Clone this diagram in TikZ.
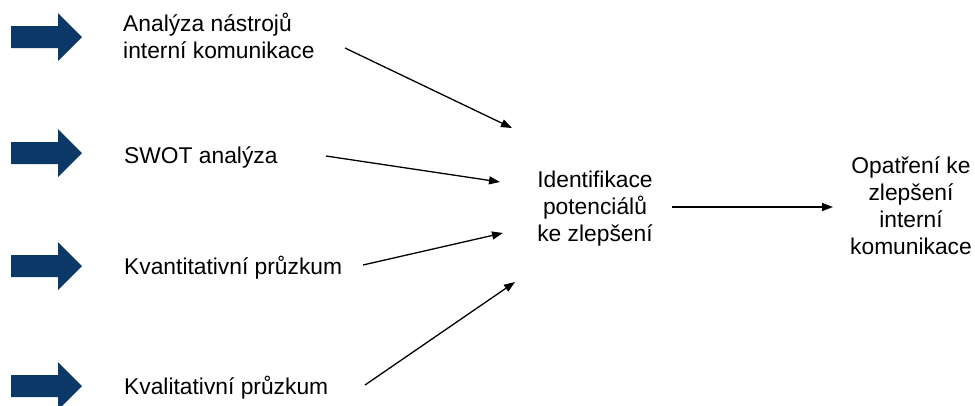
\documentclass[tikz,border=0pt]{standalone}
\usepackage{fontspec}
\setmainfont{Liberation Sans}
\usetikzlibrary{arrows.meta}
\definecolor{navy}{RGB}{12,56,104}
\tikzset{
  lbl/.style={inner sep=0pt, font=\fontsize{22.8}{27}\selectfont},
  conn/.style={line width=1.3pt, -{Triangle[length=11pt,width=8pt]}},
  blockarrow/.style={fill=navy},
  barrow/.pic={\fill[blockarrow] (11,-11) -- (58,-11) -- (58,-24) -- (82,0) -- (58,24) -- (58,11) -- (11,11) -- cycle;}
}
\newcommand{\mylines}[2]{\begin{tabular}[t]{@{}#1@{}}#2\end{tabular}}
\begin{document}
\begin{tikzpicture}[x=1pt,y=-1pt]
\useasboundingbox (0,0) rectangle (975,405);
\clip (0,0) rectangle (975,405);
\pic at (0,37) {barrow};
\pic at (0,153) {barrow};
\pic at (0,266) {barrow};
\pic at (0,386) {barrow};
\node[lbl, anchor=base west] (a1) at (123,31) {\mylines{l}{Analýza nástrojů\\interní komunikace}};
\node[lbl, anchor=base west] (a2) at (124,163) {SWOT analýza};
\node[lbl, anchor=base west] (a3) at (124,274) {Kvantitativní průzkum};
\node[lbl, anchor=base west] (a4) at (124,394) {Kvalitativní průzkum};
\node[lbl, anchor=base] (mid) at (595,187) {\mylines{c}{Identifikace\\potenciálů\\ke zlepšení}};
\node[lbl, anchor=base] (out) at (911,173) {\mylines{c}{Opatření ke\\zlepšení\\interní\\komunikace}};
\coordinate (s1) at (345,48);  \coordinate (t1) at (512,128);
\coordinate (s2) at (326,156); \coordinate (t2) at (500,182);
\coordinate (s3) at (363,265); \coordinate (t3) at (503,233);
\coordinate (s4) at (365,385); \coordinate (t4) at (515,282);
\coordinate (s5) at (672,207); \coordinate (t5) at (833,207);
\draw[conn] (s1) -- (t1);
\draw[conn] (s2) -- (t2);
\draw[conn] (s3) -- (t3);
\draw[conn] (s4) -- (t4);
\draw[conn] (s5) -- (t5);
\end{tikzpicture}
\end{document}
